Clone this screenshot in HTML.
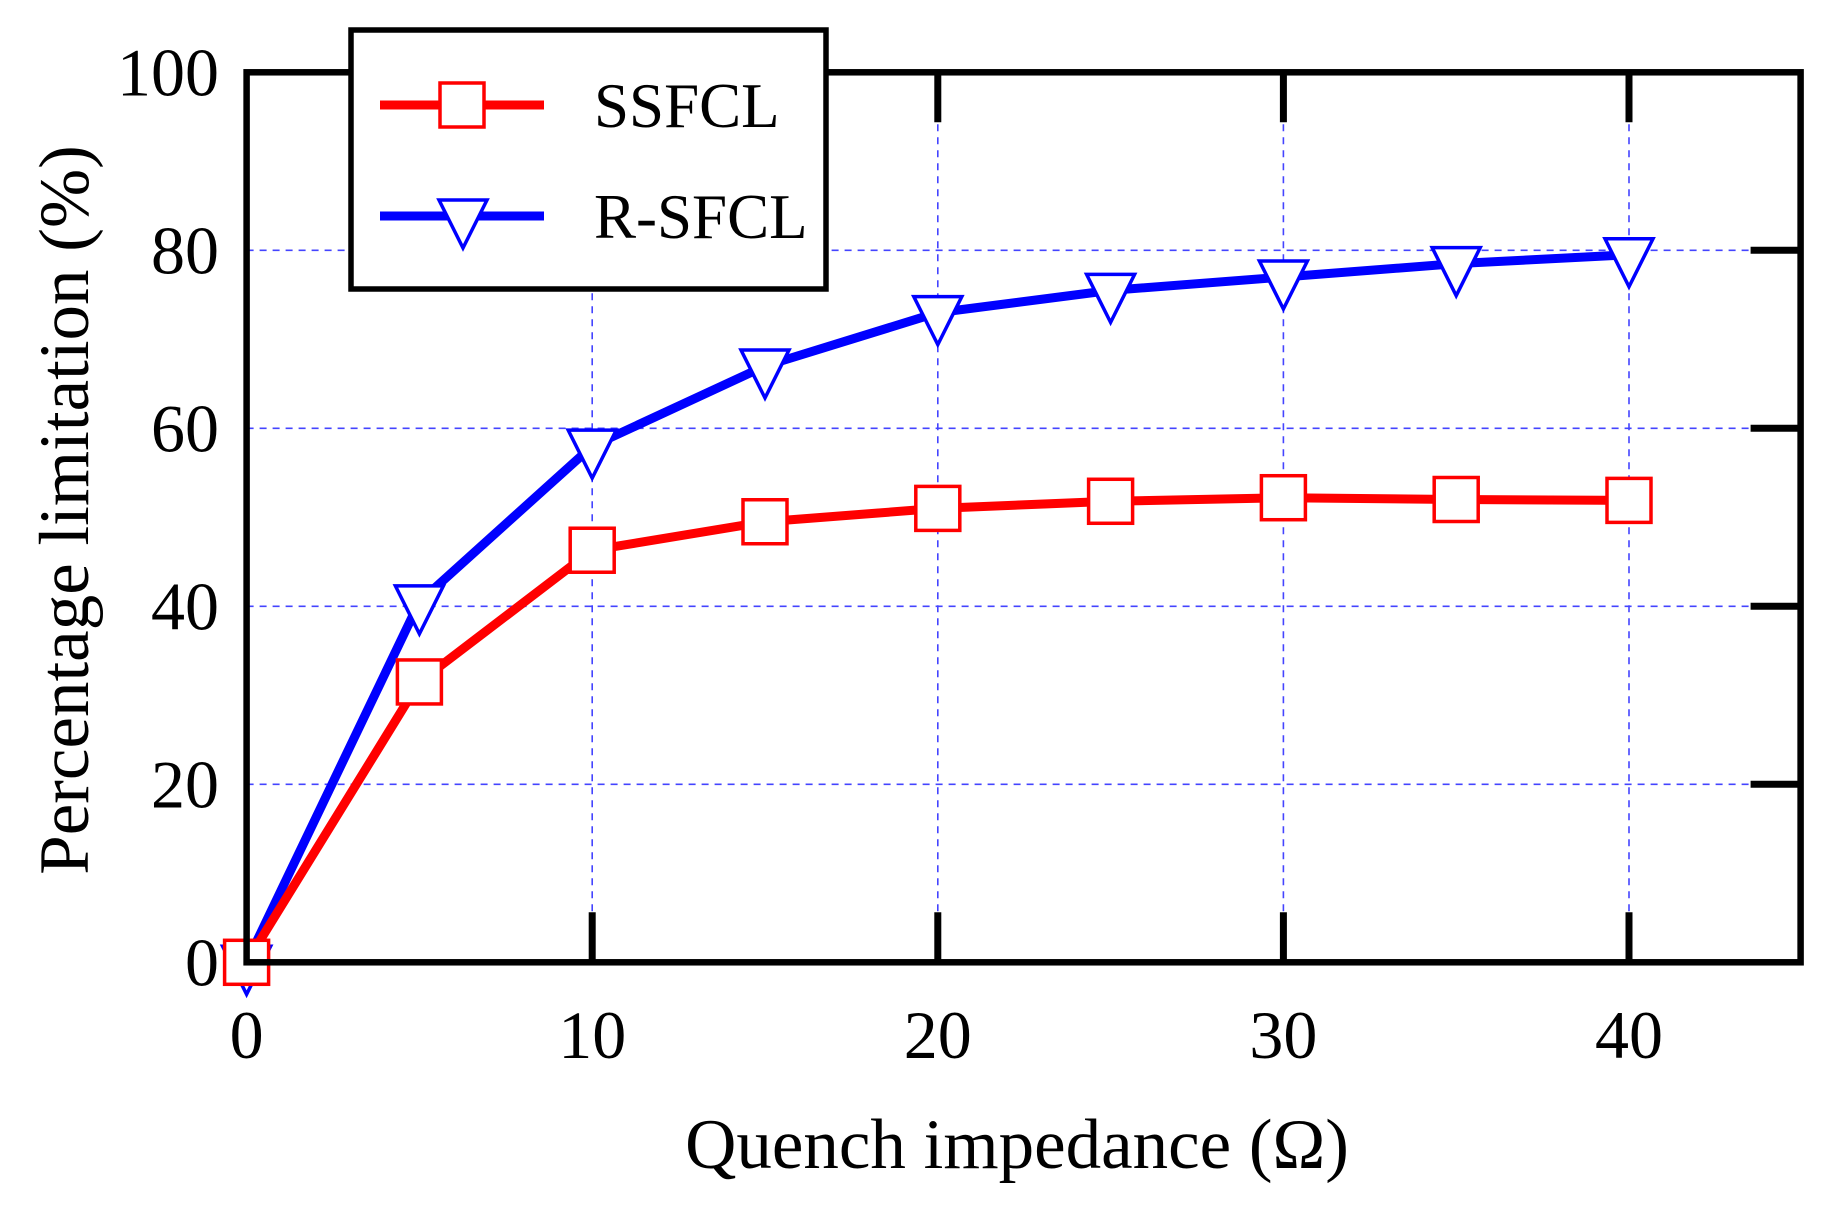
<!DOCTYPE html>
<html><head><meta charset="utf-8"><style>
html,body{margin:0;padding:0;background:#fff}
svg{display:block}
text{font-family:"Liberation Serif",serif;fill:#000}
</style></head><body>
<svg id="chart" width="1833" height="1212" viewBox="0 0 1833 1212" xmlns="http://www.w3.org/2000/svg">
<g id="grid"></g>
<g id="series"></g>
<rect x="246.6" y="72.3" width="1554" height="890" fill="none" stroke="#000" stroke-width="6.5"/>
<g id="ticks"></g>
<g id="labels"></g>
<text x="1017" y="1168" font-size="71" text-anchor="middle">Quench impedance (Ω)</text>
<text x="0" y="0" font-size="71" text-anchor="middle" transform="translate(88,510) rotate(-90)">Percentage limitation (%)</text>
<g>
<rect x="351" y="30" width="475" height="259" fill="#fff" stroke="#000" stroke-width="5.5"/>
<g>
<line x1="380" y1="105" x2="544" y2="105" stroke="#ff0000" stroke-width="9"/>
<rect x="440" y="83" width="44" height="44" fill="#fff" stroke="#ff0000" stroke-width="3.5"/>
<text x="594" y="127" font-size="63">SSFCL</text></g>
<g>
<line x1="380" y1="216" x2="544" y2="216" stroke="#0000ff" stroke-width="9"/>
<path d="M439,200 L487,200 L463,248 Z" fill="#fff" stroke="#0000ff" stroke-width="3.5"/>
<text x="594" y="238" font-size="63">R-SFCL</text></g>
</g>
</svg>
<script>
const xValues=[0,5,10,15,20,25,30,35,40];
const ssfclValues=[0,31.5,46.3,49.5,51,51.8,52.2,52,51.9];
const rsfclValues=[0,40.5,58,67,73,75.5,77,78.5,79.5];
const xTickLabels=["0","10","20","30","40"];
const yTickLabels=["0","20","40","60","80","100"];
const NS="http://www.w3.org/2000/svg";
const X0=246.6,X40=1629,Y0=962.3,Y100=72.3,XR=1800.6;
function sx(v){return X0+(X40-X0)*v/40;}
function sy(v){return Y0+(Y100-Y0)*v/100;}
function mk(tag,attrs,parent){const e=document.createElementNS(NS,tag);for(const k in attrs)e.setAttribute(k,attrs[k]);parent.appendChild(e);return e;}
const grid=document.getElementById('grid'),ticks=document.getElementById('ticks'),labels=document.getElementById('labels'),series=document.getElementById('series');
xTickLabels.forEach(t=>{const v=+t;const x=sx(v);
 if(v>0){const g=mk('line',{x1:x,y1:Y100,x2:x,y2:Y0,stroke:'#4444ff','stroke-width':1.6,'stroke-dasharray':'7,6'},grid);
 
 
 const a=mk('line',{x1:x,y1:Y0,x2:x,y2:Y0-50,stroke:'#000','stroke-width':7},ticks);
 
 
 const b=mk('line',{x1:x,y1:Y100,x2:x,y2:Y100+50,stroke:'#000','stroke-width':7},ticks);
 
 }
 const l=mk('text',{x:x,y:1058,'font-size':68,'text-anchor':'middle'},labels);l.textContent=t;
 
 
});
yTickLabels.forEach(t=>{const v=+t;const y=sy(v);
 if(v>0&&v<100){const g=mk('line',{x1:X0,y1:y,x2:XR,y2:y,stroke:'#4444ff','stroke-width':1.6,'stroke-dasharray':'7,6'},grid);
 
 
 const a=mk('line',{x1:XR,y1:y,x2:XR-50,y2:y,stroke:'#000','stroke-width':7},ticks);
 
 }
 const l=mk('text',{x:219,y:y+23,'font-size':68,'text-anchor':'end'},labels);l.textContent=t;
 
 
});
function drawSeries(vals,color,name,marker){
 const pts=xValues.map((x,i)=>sx(x)+','+sy(vals[i])).join(' ');
 const pl=mk('polyline',{points:pts,fill:'none',stroke:color,'stroke-width':9,'stroke-linejoin':'round'},series);
 
 
 xValues.forEach((x,i)=>{const cx=sx(x),cy=sy(vals[i]);let m;
  if(marker==='square'){m=mk('rect',{x:cx-22,y:cy-22,width:44,height:44,fill:'#fff',stroke:color,'stroke-width':3.5},series);}
  else{m=mk('path',{d:`M${cx-24},${cy-16} L${cx+24},${cy-16} L${cx},${cy+32} Z`,fill:'#fff',stroke:color,'stroke-width':3.5},series);}
  
  
 });
}
drawSeries(rsfclValues,'#0000ff','r-sfcl','tri');
drawSeries(ssfclValues,'#ff0000','ssfcl','square');
</script>
</body></html>
